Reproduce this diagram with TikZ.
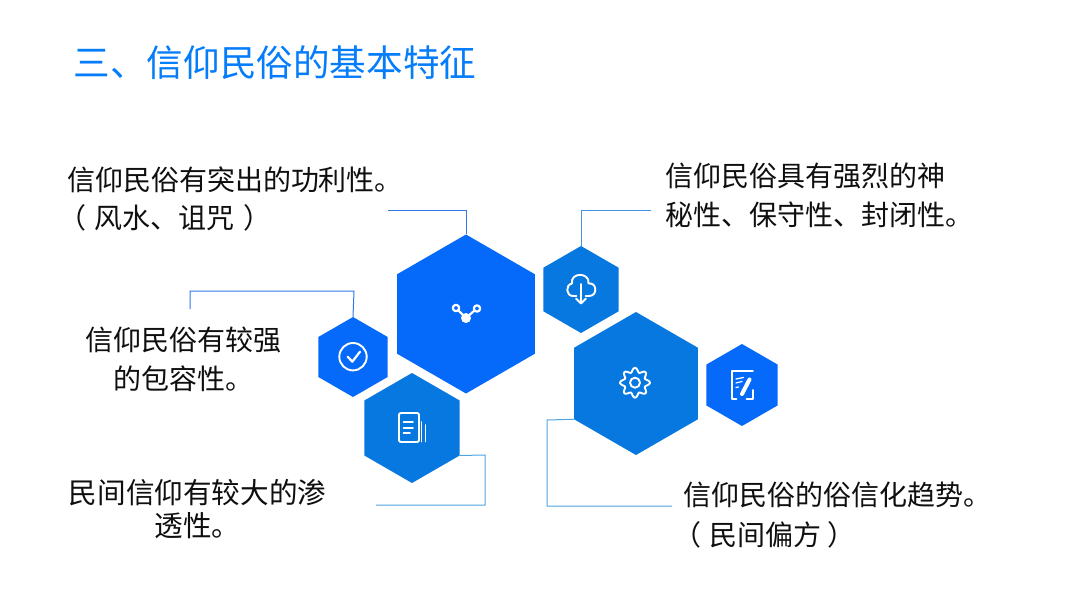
\documentclass[tikz,border=0pt]{standalone}
\usepackage{fontspec}
\setmainfont{Noto Sans CJK SC}
\usetikzlibrary{shapes.geometric}
\definecolor{hexA}{RGB}{5,105,250}
\definecolor{hexB}{RGB}{8,120,225}
\definecolor{titleblue}{RGB}{5,125,250}
\definecolor{linkA}{RGB}{50,120,235}
\definecolor{linkB}{RGB}{70,145,225}
\definecolor{linkC}{RGB}{80,165,225}
\definecolor{ink}{RGB}{15,15,15}
\tikzset{
  hexnode/.style={regular polygon,regular polygon sides=6,regular polygon rotate=30,inner sep=0pt,outer sep=0pt,draw=none},
  link/.style={line width=1pt},
  icon/.style={draw=white,line width=1.9pt,line cap=round,line join=round},
  textlabel/.style={inner sep=0pt,outer sep=0pt,text=ink,font=\fontsize{28}{#1}\selectfont},
}
\begin{document}
\begin{tikzpicture}[x=1pt,y=-1pt]
\useasboundingbox (0,0) rectangle (1080,607);
\fill[white] (0,0) rectangle (1080,607);
\node[anchor=west,inner sep=0pt,text=titleblue,font=\fontsize{36.6}{40}\selectfont] (title) at (73.5,63) {三、信仰民俗的基本特征};

\node[hexnode,fill=hexA,minimum size=159pt] (share) at (466,314) {};
\node[hexnode,fill=hexA,minimum size=80pt] (check) at (353,357) {};
\node[hexnode,fill=hexB,minimum size=110pt] (docs) at (412,428) {};
\node[hexnode,fill=hexB,minimum size=87pt] (cloud) at (581,289.5) {};
\node[hexnode,fill=hexB,minimum size=143pt] (gear) at (636,383.5) {};
\node[hexnode,fill=hexA,minimum size=82pt] (edit) at (742,385) {};

\coordinate (a1) at (388,211);
\coordinate (a2) at (190,309);
\coordinate (a3) at (651,211);
\coordinate (a4) at (672,506);
\coordinate (a5) at (376,505);
\draw[link,draw=linkA] (a1) -| (share.north);
\draw[link,draw=linkA] (a2) |- (354,291) -- (check.north);
\draw[link,draw=linkB] (a3) -| (cloud.north);
\draw[link,draw=linkC] (gear.210) -- (547,420) |- (a4);
\draw[link,draw=linkC] (docs.330) -- (485,455) |- (a5);

% share icon
\fill[white] (466,318) circle (5);
\draw[icon,line width=2.2pt] (456,308) circle (3.2) (477,308.5) circle (3.2);
\draw[icon,line width=2.2pt] (458.5,310.5) -- (466,318) -- (474.5,310.5);
% check icon
\draw[icon] (353,356.7) circle (13.7);
\draw[icon,line width=2.2pt] (347.7,356.7) -- (352.3,361.7) -- (360,351.7);
% docs icon
\draw[icon] (399,415) arc (180:270:2) -- (417,413) arc (-90:0:2) -- (419,440) arc (0:90:2) -- (401,442) arc (90:180:2) -- cycle;
\draw[icon] (403.5,422) -- (413,422) (403.5,428) -- (413,428) (403.5,433) -- (410,433);
\draw[icon] (421.5,422) -- (421.5,441.5) (425.5,425) -- (425.5,441.5);
% cloud icon
\draw[icon] (576.5,296) -- (573,296) .. controls (566,296) and (565,285) .. (572,283.5) .. controls (570,272) and (590,272) .. (588.5,283.5) .. controls (597,282) and (598,296) .. (589,296) -- (585.5,296);
\draw[icon] (581,284) -- (581,303) (576,298.5) -- (581,303.5) -- (586,298.5);
% gear icon
\draw[icon] plot[smooth cycle,samples=64,domain=0:354.4] ({635+(12.8+2.2*cos(8*\x))*cos(\x)},{382.7+(12.8+2.2*cos(8*\x))*sin(\x)});
\draw[icon] (635,382.7) circle (5);
% edit icon
\draw[icon,line width=1.6pt] (753,371) -- (732,371) -- (732,399) -- (736.5,399) (753,390) -- (753,399) -- (746.5,399);
\draw[icon,line width=1.2pt] (736,379) -- (743.5,377.5) (736,383) -- (742,381.5) (736,387.5) -- (738.5,387);
\draw[white,line width=4pt,line cap=round] (749.5,379.5) -- (742,394);

% labels
\node[textlabel=38,anchor=north west,align=left] (t1) at (67,167) {信仰民俗有突出的功利性。\\\hspace*{-9pt}（\hspace{9pt}风水、诅咒\hspace{9pt}）};
\node[textlabel=39,anchor=north west,align=left] (t2) at (665.5,163) {信仰民俗具有强烈的神\\秘性、保守性、封闭性。};
\node[textlabel=39,anchor=north,align=center] (t3) at (183.5,327) {信仰民俗有较强\\的包容性。};
\node[textlabel=33,anchor=north,align=center,font=\fontsize{28.6}{33}\selectfont] (t4) at (197.5,479) {民间信仰有较大的渗\\透性。};
\node[textlabel=40,anchor=north west,align=left] (t5) at (683.5,482) {信仰民俗的俗信化趋势。\\\hspace*{-10pt}（\hspace{8pt}民间偏方\hspace{6pt}）};
\end{tikzpicture}
\end{document}
